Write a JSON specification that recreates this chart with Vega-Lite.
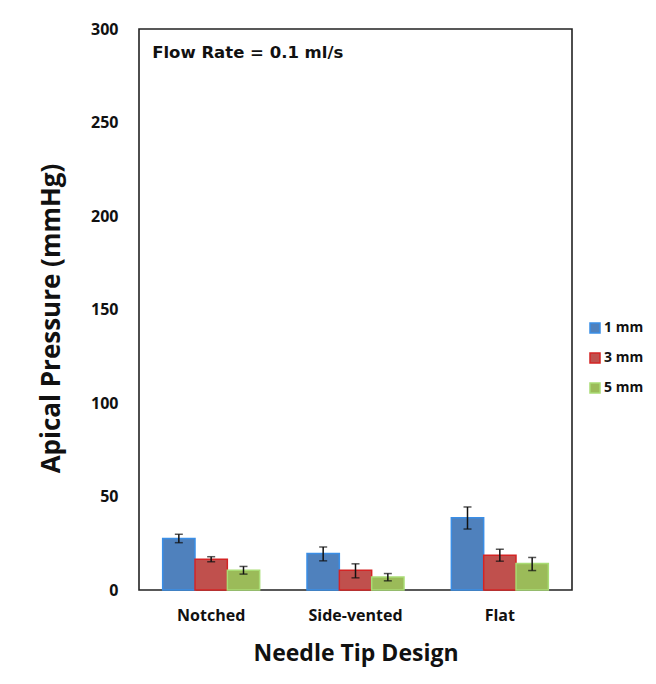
{
  "$schema": "https://vega.github.io/schema/vega-lite/v6.json",
  "width": 433,
  "height": 561,
  "autosize": "none",
  "padding": {"left": 139, "top": 29, "right": 84, "bottom": 94},
  "background": "white",
  "config": {
    "font": "Open Sans",
    "view": {"stroke": "#222222", "strokeWidth": 1.6},
    "axis": {"grid": false, "ticks": false, "domain": false, "labelColor": "#111", "titleColor": "#111", "labelFontWeight": "bold", "titleFontWeight": "bold"}
  },
  "data": {
    "values": [
      {"design": "Notched", "size": "1 mm", "value": 27.5, "lo": 25.3, "hi": 29.8},
      {"design": "Notched", "size": "3 mm", "value": 16.5, "lo": 15.1, "hi": 17.8},
      {"design": "Notched", "size": "5 mm", "value": 10.6, "lo": 8.5, "hi": 12.6},
      {"design": "Side-vented", "size": "1 mm", "value": 19.5, "lo": 15.6, "hi": 23.0},
      {"design": "Side-vented", "size": "3 mm", "value": 10.6, "lo": 6.5, "hi": 14.0},
      {"design": "Side-vented", "size": "5 mm", "value": 7.0, "lo": 4.9, "hi": 8.8},
      {"design": "Flat", "size": "1 mm", "value": 38.6, "lo": 32.6, "hi": 44.4},
      {"design": "Flat", "size": "3 mm", "value": 18.6, "lo": 15.4, "hi": 21.8},
      {"design": "Flat", "size": "5 mm", "value": 14.2, "lo": 10.4, "hi": 17.4}
    ]
  },
  "encoding": {
    "x": {
      "field": "design", "type": "nominal", "sort": ["Notched", "Side-vented", "Flat"],
      "scale": {"paddingInner": 0.328, "paddingOuter": 0.164},
      "axis": {"title": "Needle Tip Design", "labelAngle": 0, "labelFontSize": 16, "labelPadding": 17, "titleFontSize": 23, "titlePadding": 19}
    },
    "xOffset": {"field": "size", "type": "nominal", "scale": {"paddingInner": 0, "paddingOuter": 0}}
  },
  "layer": [
    {
      "mark": {"type": "bar", "strokeWidth": 1.5},
      "encoding": {
        "y": {
          "field": "value", "type": "quantitative",
          "scale": {"domain": [0, 300], "nice": false},
          "axis": {"title": "Apical Pressure (mmHg)", "values": [0, 50, 100, 150, 200, 250, 300], "labelFontSize": 16, "labelPadding": 21, "titleFontSize": 26, "titlePadding": 26, "titleY": 289}
        },
        "fill": {
          "field": "size", "type": "nominal",
          "scale": {"domain": ["1 mm", "3 mm", "5 mm"], "range": ["#4F81BD", "#C0504D", "#9BBB59"]},
          "legend": {"title": null, "orient": "none", "legendX": 449, "legendY": 292, "symbolType": "square", "symbolSize": 100, "symbolStrokeWidth": 1.5, "labelFontSize": 14, "labelFontWeight": "bold", "labelColor": "#111", "rowPadding": 14, "labelOffset": 2}
        },
        "stroke": {
          "field": "size", "type": "nominal",
          "scale": {"domain": ["1 mm", "3 mm", "5 mm"], "range": ["#3A8EE6", "#D42424", "#A9DC74"]},
          "legend": null
        }
      }
    },
    {
      "mark": {"type": "rule", "color": "#111", "strokeWidth": 1.5},
      "encoding": {
        "y": {"field": "lo", "type": "quantitative"},
        "y2": {"field": "hi"}
      }
    },
    {
      "mark": {"type": "tick", "color": "#111", "size": 8, "thickness": 1.5},
      "encoding": {"y": {"field": "lo", "type": "quantitative"}}
    },
    {
      "mark": {"type": "tick", "color": "#111", "size": 8, "thickness": 1.5},
      "encoding": {"y": {"field": "hi", "type": "quantitative"}}
    },
    {
      "data": {"values": [{"label": "Flow Rate = 0.1 ml/s"}]},
      "mark": {"type": "text", "align": "left", "baseline": "middle", "font": "DejaVu Sans", "fontSize": 16.5, "fontWeight": "bold", "color": "#111", "dx": -59},
      "encoding": {
        "x": {"datum": "Notched"},
        "xOffset": null,
        "y": {"datum": 287},
        "text": {"field": "label"}
      }
    }
  ]
}
